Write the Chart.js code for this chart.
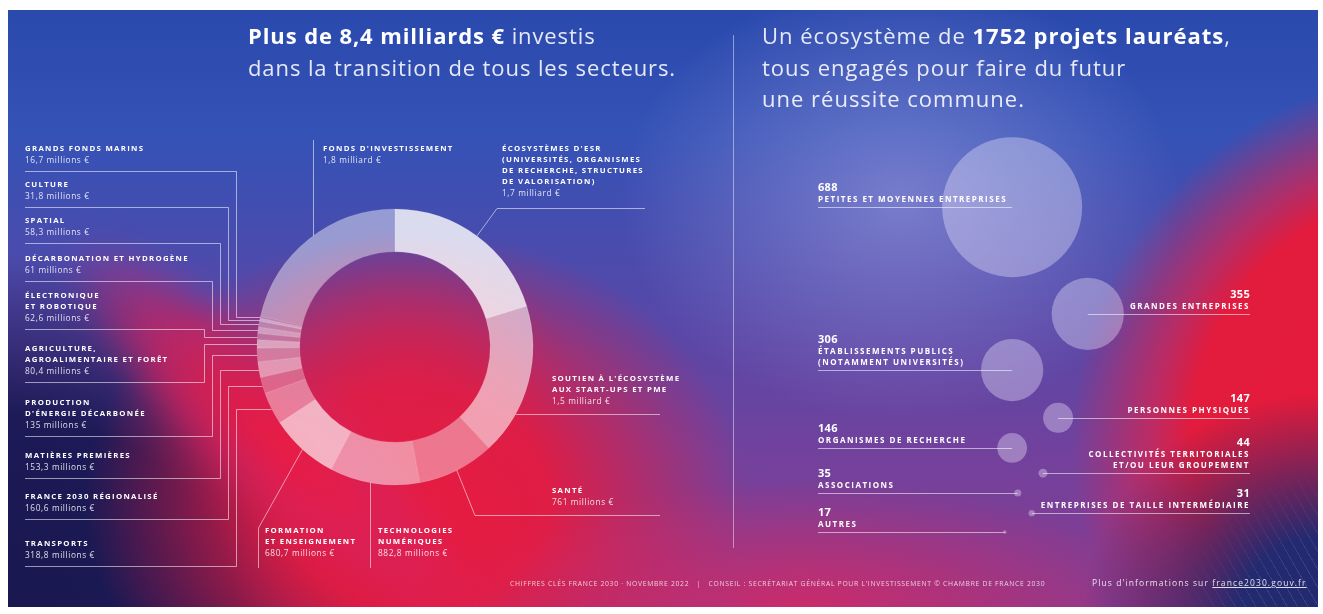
<!DOCTYPE html>
<html lang="fr">
<head>
<meta charset="utf-8">
<script src="https://cdn.jsdelivr.net/npm/chart.js@4.4.1/dist/chart.umd.min.js"></script>
<style>
html,body{margin:0;padding:0;background:#fff;width:1323px;height:614px;overflow:hidden;font-family:"Open Sans",Lato,sans-serif;}
#bg{position:absolute;left:0;top:0;width:1323px;height:614px;clip-path:inset(10px 5px 7px 8px);overflow:hidden;
 background:
  radial-gradient(ellipse 280px 220px at 900px 200px, rgba(175,170,230,0.5), rgba(175,170,230,0) 100%),
  radial-gradient(ellipse 240px 220px at 1323px 614px, #222a70 0%, #242a70 35%, rgba(36,42,112,0) 100%),
  radial-gradient(circle 400px at 1440px 440px, #e41a3a 0%, #e31b3c 62%, rgba(215,35,80,0.75) 72%, rgba(150,60,150,0) 92%),
  radial-gradient(ellipse 360px 130px at 800px 610px, rgba(215,40,100,0.85), rgba(205,45,115,0) 100%),
  radial-gradient(ellipse 170px 160px at 400px 390px, rgba(222,30,72,0.75), rgba(222,30,72,0) 100%),
  radial-gradient(ellipse 330px 270px at 415px 500px, #ea1a3e 0%, rgba(232,26,62,0.92) 40%, rgba(215,35,85,0) 100%),
  radial-gradient(ellipse 430px 360px at 0px 614px, #19184f 0%, #1c1a57 55%, rgba(30,28,92,0) 100%),
  linear-gradient(180deg, #2a49ad 0%, #3552b6 22%, #5249aa 48%, #73419c 75%, #8a3b8e 100%);}
#swoosh{position:absolute;left:-5px;top:362px;width:560px;height:150px;border-radius:50%;
 transform:rotate(43deg);filter:blur(14px);
 background:radial-gradient(closest-side, rgba(236,26,64,0.95), rgba(215,34,95,0.7) 60%, rgba(180,50,130,0) 100%);}
#grid{position:absolute;left:1180px;top:470px;width:150px;height:150px;
 background:repeating-linear-gradient(60deg, rgba(255,255,255,0.10) 0 1px, rgba(255,255,255,0) 1px 9px);
 -webkit-mask-image:radial-gradient(circle at 100% 100%, #000 30%, transparent 75%);}
canvas{position:absolute;}
#donut{left:0;top:0;}
#bubbles{left:740px;top:110px;}
#overlay{position:absolute;left:0;top:0;width:1323px;height:614px;pointer-events:none;}
.title{position:absolute;color:rgba(255,255,255,0.88);font-size:22px;line-height:32px;letter-spacing:0.9px;white-space:pre;}
.title b{color:#fff;font-weight:700;}
.lab{position:absolute;color:#fff;line-height:11px;white-space:pre;}
.lab .c{font-weight:700;font-size:7.8px;letter-spacing:1.3px;display:block;}
.lab .v{display:block;font-size:8.3px;opacity:0.85;letter-spacing:0.6px;}
.blab{position:absolute;color:#fff;white-space:pre;}
.blab .n{display:block;font-weight:700;font-size:11px;line-height:13px;letter-spacing:0.3px;}
.blab .c{display:block;font-weight:700;font-size:8px;line-height:11px;letter-spacing:1.5px;}
#divider{position:absolute;left:733px;top:35px;width:1px;height:513px;background:rgba(255,255,255,0.45);}
.foot{position:absolute;top:579px;color:rgba(255,255,255,0.75);font-size:6.8px;letter-spacing:0.7px;white-space:pre;}
.more{position:absolute;left:1092px;top:577px;color:rgba(255,255,255,0.85);font-size:8.5px;letter-spacing:1.1px;white-space:pre;}
.more u{text-decoration:underline;}
</style>
</head>
<body>
<div id="bg"><div id="swoosh"></div><div id="grid"></div></div>
<canvas id="donut" width="730" height="614"></canvas>
<canvas id="bubbles" width="560" height="450"></canvas>
<div id="overlay">
  <div class="title" style="left:248px;top:19px;"><b>Plus de 8,4 milliards €</b> investis
dans la transition de tous les secteurs.</div>
  <div class="title" style="left:762px;top:20px;letter-spacing:1px;line-height:31.5px;">Un écosystème de <b>1752 projets lauréats</b>,
tous engagés pour faire du futur
une réussite commune.</div>
  <div id="divider"></div>
  <div class="foot" style="left:510px;">CHIFFRES CLÉS FRANCE 2030 · NOVEMBRE 2022   |   CONSEIL : SECRÉTARIAT GÉNÉRAL POUR L'INVESTISSEMENT © CHAMBRE DE FRANCE 2030</div>
  <div class="more">Plus d'informations sur <u>france2030.gouv.fr</u></div>
</div>
<script>
// ---------------- DATA ----------------
// Investissements par secteur (ordre horaire depuis midi)
const donutCategories = [
  "ÉCOSYSTÈMES D'ESR\n(UNIVERSITÉS, ORGANISMES\nDE RECHERCHE, STRUCTURES\nDE VALORISATION)",
  "SOUTIEN À L'ÉCOSYSTÈME\nAUX START-UPS ET PME",
  "SANTÉ",
  "TECHNOLOGIES\nNUMÉRIQUES",
  "FORMATION\nET ENSEIGNEMENT",
  "TRANSPORTS",
  "FRANCE 2030 RÉGIONALISÉ",
  "MATIÈRES PREMIÈRES",
  "PRODUCTION\nD'ÉNERGIE DÉCARBONÉE",
  "AGRICULTURE,\nAGROALIMENTAIRE ET FORÊT",
  "ÉLECTRONIQUE\nET ROBOTIQUE",
  "DÉCARBONATION ET HYDROGÈNE",
  "SPATIAL",
  "CULTURE",
  "GRANDS FONDS MARINS",
  "FONDS D'INVESTISSEMENT"
];
const donutMillions = [1700, 1500, 761, 882.8, 680.7, 318.8, 160.6, 153.3, 135, 80.4, 62.6, 61, 58.3, 31.8, 16.7, 1800];

// Projets lauréats par type d'acteur
const bubbleCategories = [
  "PETITES ET MOYENNES ENTREPRISES",
  "GRANDES ENTREPRISES",
  "ÉTABLISSEMENTS PUBLICS\n(NOTAMMENT UNIVERSITÉS)",
  "PERSONNES PHYSIQUES",
  "ORGANISMES DE RECHERCHE",
  "COLLECTIVITÉS TERRITORIALES\nET/OU LEUR GROUPEMENT",
  "ASSOCIATIONS",
  "ENTREPRISES DE TAILLE INTERMÉDIAIRE",
  "AUTRES"
];
const bubbleCounts = [688, 355, 306, 147, 146, 44, 35, 31, 17];

// ---------------- LAYOUT / STYLE ----------------
const segmentAlpha = [0.8, 0.58, 0.4, 0.5, 0.66, 0.42, 0.3, 0.52, 0.38, 0.56, 0.32, 0.52, 0.38, 0.56, 0.34, 0.44];
const LH = 11;
const donutLabelLayout = [
  {x:502, y:146, conn:{t:'diag', y:208, x1:645, x2:497}},
  {x:552, y:376, conn:{t:'hcirc', y:414, x1:660}},
  {x:552, y:488, conn:{t:'diag', y:515, x1:660, x2:475}},
  {x:378, y:528, conn:{t:'vcirc', x:370, y1:568}},
  {x:265, y:528, conn:{t:'vdiag', x:258, y1:568, y2:528}},
  {x:25, y:541, conn:{t:'elbow', turn:236}},
  {x:25, y:494, conn:{t:'elbow', turn:228}},
  {x:25, y:453, conn:{t:'elbow', turn:220}},
  {x:25, y:400, conn:{t:'elbow', turn:212}},
  {x:25, y:346, conn:{t:'elbow', turn:204}},
  {x:25, y:293, conn:{t:'elbow', turn:204}},
  {x:25, y:256, conn:{t:'elbow', turn:212}},
  {x:25, y:218, conn:{t:'elbow', turn:220}},
  {x:25, y:182, conn:{t:'elbow', turn:228}},
  {x:25, y:146, conn:{t:'elbow', turn:236}},
  {x:323, y:146, conn:{t:'vcirc', x:313, y1:140}}
];
// bubble centres in a 0..100 layout space, and label side
const bubbleLayout = [
  {x:48.6, y:21.6, side:'left'},
  {x:62.1, y:45.3, side:'right'},
  {x:48.6, y:57.8, side:'left'},
  {x:56.8, y:68.4, side:'right'},
  {x:48.6, y:75.1, side:'left'},
  {x:54.1, y:80.7, side:'right'},
  {x:49.6, y:85.1, side:'left'},
  {x:52.1, y:89.6, side:'right'},
  {x:47.3, y:93.8, side:'left'}
];
const RADIUS_PER_PROJECT = 70 / 688;
const BUBBLE_CANVAS = {left:740, top:110};
const LABEL_LEFT_X = 818, LABEL_RIGHT_X = 1250;

function fmtEuro(m){
  if (m >= 1000) return (m/1000).toLocaleString('fr-FR') + ' milliard €';
  return m.toLocaleString('fr-FR') + ' millions €';
}
function nLines(i){ return donutCategories[i].split('\n').length + 1; }

const overlay = document.getElementById('overlay');

// ---------------- DONUT ----------------
const donutConnectors = {
  id:'donutConnectors',
  afterDatasetsDraw(chart){
    const ctx = chart.ctx, meta = chart.getDatasetMeta(0);
    ctx.save();
    ctx.strokeStyle = 'rgba(255,255,255,0.55)';
    ctx.lineWidth = 1;
    const s = v => Math.round(v) + 0.5;
    meta.data.forEach((arc, i) => {
      const p = arc.getProps(['x','y','startAngle','endAngle','outerRadius'], true);
      const R = p.outerRadius, mid = (p.startAngle + p.endAngle)/2;
      const mx = p.x + Math.cos(mid)*R, my = p.y + Math.sin(mid)*R;
      const L = donutLabelLayout[i], c = L.conn;
      ctx.beginPath();
      if (c.t === 'elbow') {
        const uy = s(L.y + nLines(i)*LH + 3);
        ctx.moveTo(L.x, uy); ctx.lineTo(s(c.turn), uy); ctx.lineTo(s(c.turn), s(my)); ctx.lineTo(mx, s(my));
      } else if (c.t === 'diag') {
        ctx.moveTo(c.x1, s(c.y)); ctx.lineTo(c.x2, s(c.y)); ctx.lineTo(mx, my);
      } else if (c.t === 'hcirc') {
        const dy = c.y - p.y, ix = p.x + Math.sqrt(R*R - dy*dy);
        ctx.moveTo(c.x1, s(c.y)); ctx.lineTo(ix, s(c.y));
      } else if (c.t === 'vcirc') {
        const dx = c.x - p.x, h = Math.sqrt(R*R - dx*dx);
        const iy = c.y1 < p.y ? p.y - h : p.y + h;
        ctx.moveTo(s(c.x), c.y1); ctx.lineTo(s(c.x), iy);
      } else if (c.t === 'vdiag') {
        ctx.moveTo(s(c.x), c.y1); ctx.lineTo(s(c.x), c.y2); ctx.lineTo(mx, my);
      }
      ctx.stroke();
    });
    ctx.restore();
  }
};

new Chart(document.getElementById('donut'), {
  type:'doughnut',
  data:{
    labels: donutCategories.map(c => c.replace(/\n/g,' ')),
    datasets:[{
      data: donutMillions,
      backgroundColor: segmentAlpha.map(a => `rgba(255,255,255,${a})`),
      borderColor: 'rgba(255,255,255,0.18)',
      borderWidth: 0.6
    }]
  },
  options:{
    responsive:false, animation:false, devicePixelRatio:1,
    radius:138, cutout:95, rotation:0,
    layout:{padding:{left:257, right:197, top:209, bottom:129}},
    plugins:{legend:{display:false}, tooltip:{enabled:false}}
  },
  plugins:[donutConnectors]
});

donutLabelLayout.forEach((L, i) => {
  const d = document.createElement('div');
  d.className = 'lab';
  d.style.left = L.x + 'px';
  d.style.top = (L.y - 3) + 'px';
  const c = document.createElement('span'); c.className = 'c'; c.textContent = donutCategories[i];
  const v = document.createElement('span'); v.className = 'v'; v.textContent = fmtEuro(donutMillions[i]);
  d.appendChild(c); d.appendChild(v);
  overlay.appendChild(d);
});

// ---------------- BUBBLES ----------------
const bubbleConnectors = {
  id:'bubbleConnectors',
  afterDatasetsDraw(chart){
    const ctx = chart.ctx, meta = chart.getDatasetMeta(0);
    ctx.save();
    ctx.strokeStyle = 'rgba(255,255,255,0.55)';
    ctx.lineWidth = 1;
    meta.data.forEach((el, i) => {
      const y = Math.round(el.y) + 0.5;
      const edge = (bubbleLayout[i].side === 'left' ? LABEL_LEFT_X : LABEL_RIGHT_X) - BUBBLE_CANVAS.left;
      ctx.beginPath(); ctx.moveTo(edge, y); ctx.lineTo(el.x, y); ctx.stroke();
    });
    ctx.restore();
  }
};

const bubbleChart = new Chart(document.getElementById('bubbles'), {
  type:'bubble',
  data:{
    labels: bubbleCategories.map(c => c.replace(/\n/g,' ')),
    datasets:[{
      data: bubbleCounts.map((n, i) => ({x: bubbleLayout[i].x, y: bubbleLayout[i].y, r: n*RADIUS_PER_PROJECT})),
      backgroundColor: 'rgba(240,236,255,0.36)',
      borderWidth: 0,
      clip: false
    }]
  },
  options:{
    responsive:false, animation:false, devicePixelRatio:1,
    layout:{padding:0, autoPadding:false},
    scales:{
      x:{display:false, min:0, max:100},
      y:{display:false, min:0, max:100, reverse:true}
    },
    plugins:{legend:{display:false}, tooltip:{enabled:false}}
  },
  plugins:[bubbleConnectors]
});

bubbleChart.getDatasetMeta(0).data.forEach((el, i) => {
  const d = document.createElement('div');
  d.className = 'blab';
  const lineY = BUBBLE_CANVAS.top + el.y;
  const nCat = bubbleCategories[i].split('\n').length;
  const h = 13 + nCat*11;
  d.style.top = (lineY - 3 - h) + 'px';
  if (bubbleLayout[i].side === 'left') {
    d.style.left = LABEL_LEFT_X + 'px';
  } else {
    d.style.right = (1323 - LABEL_RIGHT_X) + 'px';
    d.style.textAlign = 'right';
  }
  const n = document.createElement('span'); n.className = 'n'; n.textContent = bubbleCounts[i];
  const c = document.createElement('span'); c.className = 'c'; c.textContent = bubbleCategories[i];
  d.appendChild(n); d.appendChild(c);
  overlay.appendChild(d);
});
</script>
</body>
</html>
